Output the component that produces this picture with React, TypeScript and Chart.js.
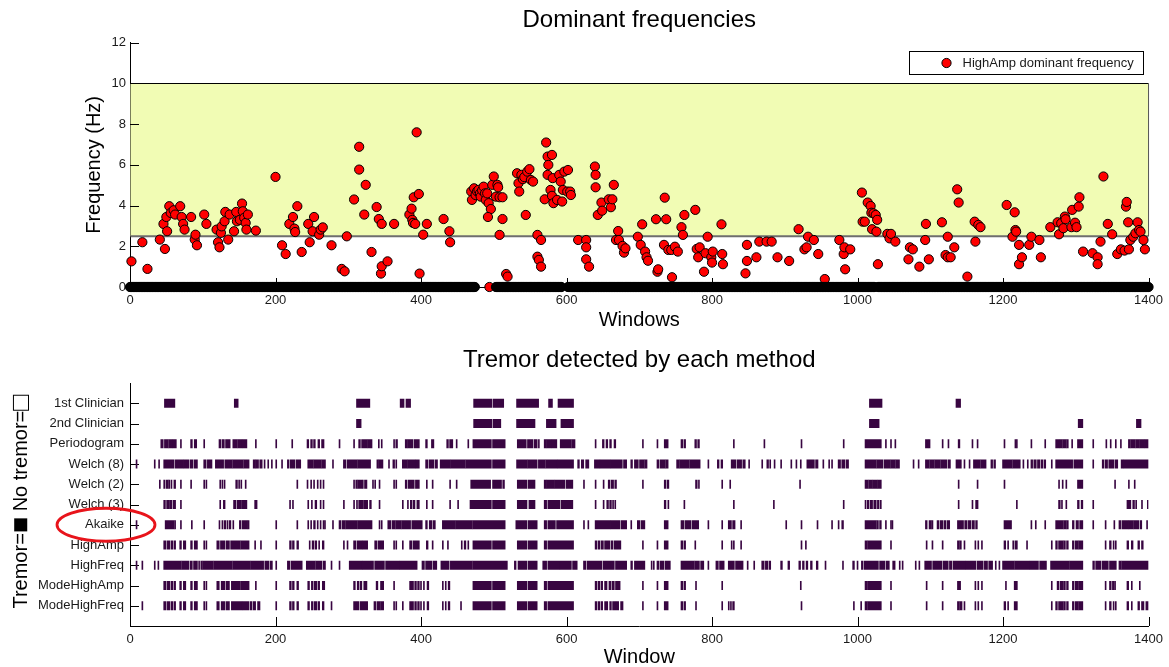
import React, { useEffect, useRef } from 'react';
import { Chart, registerables } from 'chart.js';

Chart.register(...registerables);

const FONT = '"Liberation Sans", Arial, Helvetica, sans-serif';
const TEXT = '#1a1a1a';

const WINDOW_TICKS = [0, 200, 400, 600, 800, 1000, 1200, 1400];
const FREQ_TICKS = [0, 2, 4, 6, 8, 10, 12];
const TREMOR_BAND: [number, number] = [2.5, 10];

// windows whose dominant frequency is 0 (no peak found)
const ZERO_RANGES: [number, number][] = [[0, 474], [494, 494], [503, 593], [602, 1023], [1028, 1400]];

// [window, frequency Hz] for windows with a non-zero dominant frequency
const DOMINANT_FREQ: [number, number][] = [
  [2, 1.26], [17, 2.2], [24, 0.89], [41, 2.33], [46, 3.1], [48, 1.87], [50, 3.44], [51, 2.74], [54, 3.97], [56, 3.64],
  [60, 3.77], [62, 3.56], [69, 3.97], [71, 3.44], [73, 3.1], [75, 2.82], [84, 3.44], [89, 2.33], [90, 2.57], [92, 2.05],
  [102, 3.56], [105, 3.1], [119, 2.82], [121, 2.2], [123, 1.95], [125, 2.66], [126, 2.98], [130, 3.23], [131, 3.69], [135, 2.33],
  [137, 3.56], [143, 2.74], [146, 3.69], [147, 3.23], [151, 3.3], [154, 4.1], [155, 3.72], [157, 3.4], [159, 3.15], [160, 2.82],
  [162, 3.56], [173, 2.77], [200, 5.41], [209, 2.05], [214, 1.62], [219, 3.1], [224, 3.44], [226, 2.87], [227, 2.7], [230, 3.97],
  [236, 1.72], [245, 3.1], [247, 2.2], [251, 2.74], [253, 3.44], [260, 2.57], [262, 2.82], [265, 2.93], [277, 2.05], [291, 0.89],
  [295, 0.77], [298, 2.49], [308, 4.3], [315, 6.89], [315, 5.77], [322, 3.56], [324, 5.02], [332, 1.72], [339, 3.93], [342, 3.34],
  [345, 0.66], [346, 3.1], [346, 1.02], [354, 1.26], [363, 3.1], [384, 3.56], [387, 3.85], [388, 3.3], [389, 3.15], [390, 4.41],
  [392, 3.1], [394, 7.6], [397, 4.57], [398, 0.66], [403, 2.57], [408, 3.1], [431, 3.34], [439, 2.74], [440, 2.2],
  [469, 4.69], [470, 4.28], [473, 4.85], [475, 4.52], [477, 4.7], [479, 4.77], [481, 4.6], [482, 4.44], [484, 4.75], [486, 4.93],
  [488, 4.6], [489, 4.28], [491, 4.6], [493, 4.12], [496, 3.83], [492, 3.44], [498, 5.02], [500, 5.43], [503, 4.44], [505, 5.02],
  [506, 4.9], [508, 4.41], [508, 2.56], [512, 4.41], [512, 3.34], [517, 0.64], [519, 0.51],
  [532, 5.59], [534, 5.1], [535, 4.69], [538, 5.51], [540, 5.3], [542, 5.4], [544, 3.54], [546, 5.67], [549, 5.79], [551, 5.26],
  [554, 5.18], [560, 2.56], [560, 1.49], [562, 1.33], [565, 2.31], [565, 1.0], [570, 4.31], [572, 7.1], [574, 6.41], [574, 5.51],
  [575, 6.0], [578, 4.77], [580, 6.49], [580, 4.48], [581, 5.35], [582, 4.12], [587, 4.28], [590, 5.51], [592, 5.18], [594, 4.2],
  [595, 4.77], [597, 5.67], [601, 4.69], [602, 5.75], [605, 4.69], [606, 4.52],
  [616, 2.31], [627, 2.31], [627, 1.95], [627, 1.36], [631, 1.0], [639, 5.92], [640, 5.51], [640, 4.9], [643, 3.54], [648, 4.15],
  [649, 3.75], [658, 4.31], [661, 3.92], [663, 4.31], [665, 5.02], [668, 2.31], [671, 2.75], [672, 2.31], [677, 2.02], [679, 1.69],
  [681, 1.9], [698, 2.47],
  [704, 3.08], [702, 2.07], [708, 1.74], [710, 1.46], [712, 1.29], [725, 0.75], [726, 0.87], [723, 3.33], [734, 2.07], [735, 4.39],
  [737, 3.33], [740, 1.82], [744, 1.82], [745, 0.48], [749, 1.98], [753, 1.74], [758, 2.94], [760, 2.56], [762, 3.54], [777, 3.79],
  [779, 1.87], [781, 1.46], [783, 1.95], [789, 0.75], [791, 1.66], [794, 2.47], [799, 1.46], [800, 1.2], [801, 1.74], [813, 3.08],
  [814, 1.62], [815, 1.12], [846, 0.67], [848, 2.07], [848, 1.28], [861, 1.46], [865, 2.23], [875, 2.23], [882, 2.23], [890, 1.46],
  [906, 1.28], [919, 2.84], [927, 1.85], [930, 1.95], [932, 2.47], [940, 2.31], [946, 1.62], [955, 0.39], [975, 2.31], [981, 1.62],
  [982, 1.95], [983, 0.87], [990, 1.85], [1006, 4.64], [1007, 3.21], [1010, 3.21], [1014, 4.15], [1018, 3.98], [1019, 3.65], [1020, 2.84],
  [1022, 3.62], [1025, 3.54], [1026, 2.72], [1027, 3.3], [1028, 1.12], [1041, 2.61], [1044, 2.39],
  [1046, 2.61], [1052, 2.23], [1070, 1.36], [1072, 1.95], [1076, 1.85], [1085, 1.0], [1093, 2.31], [1094, 3.1], [1098, 1.36], [1116, 3.18],
  [1121, 1.57], [1124, 2.47], [1124, 1.46], [1128, 1.46], [1133, 1.95], [1137, 4.8], [1139, 4.15], [1151, 0.51], [1161, 3.21], [1162, 2.23],
  [1166, 3.05], [1169, 2.94], [1205, 4.03], [1213, 2.47], [1216, 3.67], [1217, 2.8], [1218, 2.72], [1222, 2.07], [1222, 1.12], [1226, 1.46],
  [1236, 2.07], [1239, 2.47], [1250, 2.31], [1252, 1.46], [1265, 2.94], [1275, 3.18], [1277, 2.59], [1280, 3.13], [1283, 2.89], [1285, 3.46],
  [1286, 3.33], [1294, 2.94], [1295, 3.79], [1299, 3.16], [1301, 2.94], [1304, 3.95], [1305, 4.41], [1310, 1.74], [1323, 1.66], [1330, 1.46],
  [1330, 1.12], [1334, 2.23], [1338, 5.43], [1344, 3.1], [1350, 2.59], [1357, 1.62], [1362, 1.85], [1367, 1.79], [1369, 3.95], [1370, 4.18],
  [1372, 3.18], [1373, 1.85], [1375, 2.31], [1379, 2.47], [1382, 2.64], [1385, 3.18], [1387, 2.8], [1389, 2.72], [1393, 2.31], [1395, 1.85],
];

const METHODS = [
  '1st Clinician', '2nd Clinician', 'Periodogram', 'Welch (8)', 'Welch (2)', 'Welch (3)',
  'Akaike', 'HighAmp', 'HighFreq', 'ModeHighAmp', 'ModeHighFreq',
];

// detected-tremor window ranges [first, last] for each method
const CLINICIAN_1: [number, number][] = [[48, 61], [144, 148], [312, 329], [372, 376], [380, 385], [473, 497], [500, 513], [532, 561], [576, 580], [589, 609], [1017, 1033], [1136, 1141]];
const CLINICIAN_2: [number, number][] = [[312, 317], [473, 497], [500, 509], [532, 556], [573, 585], [593, 609], [1017, 1029], [1304, 1309], [1384, 1389]];
const PERIODOGRAM: [number, number][] = [
  [43, 45], [48, 52], [54, 58], [60, 63], [70, 70], [84, 85], [89, 91], [102, 102], [123, 124], [127, 129], [132, 137], [142, 147], [149, 153], [155, 160],
  [173, 173], [201, 201], [223, 223], [244, 245], [249, 250], [253, 254], [259, 260], [264, 266], [288, 288], [308, 308], [315, 316], [319, 325], [327, 332],
  [342, 342], [346, 346], [363, 363], [366, 367], [379, 380], [382, 388], [391, 397], [407, 408], [415, 417], [436, 437], [440, 443], [449, 449], [465, 465],
  [472, 496], [499, 515], [533, 544], [547, 553], [556, 559], [562, 562], [570, 571], [573, 579], [581, 586], [592, 606], [608, 611], [640, 640], [650, 651],
  [655, 656], [660, 661], [666, 667], [705, 705], [725, 725], [735, 739], [758, 759], [762, 763], [777, 778], [781, 782], [830, 830], [872, 872], [923, 923],
  [981, 981], [1011, 1012], [1014, 1032], [1039, 1039], [1046, 1046], [1052, 1052], [1094, 1096], [1098, 1099], [1117, 1117], [1125, 1125], [1139, 1140],
  [1158, 1158], [1165, 1165], [1202, 1202], [1217, 1217], [1219, 1219], [1239, 1239], [1258, 1258], [1273, 1276], [1278, 1281], [1283, 1286], [1288, 1289],
  [1295, 1295], [1303, 1309], [1324, 1324], [1342, 1342], [1348, 1348], [1355, 1355], [1362, 1362], [1373, 1374], [1376, 1381], [1383, 1387], [1389, 1394], [1396, 1399],
];
const WELCH_8: [number, number][] = [
  [9, 9], [34, 34], [40, 40], [47, 60], [63, 72], [74, 80], [83, 86], [89, 92], [102, 104], [107, 112], [118, 128], [131, 140], [142, 155], [157, 163],
  [170, 172], [174, 176], [179, 181], [185, 185], [190, 190], [195, 195], [201, 201], [209, 209], [217, 218], [221, 226], [229, 234], [245, 251], [253, 262],
  [264, 268], [279, 279], [294, 296], [299, 312], [314, 330], [340, 341], [343, 347], [356, 356], [362, 363], [366, 366], [375, 380], [382, 392], [394, 397],
  [407, 409], [412, 417], [420, 422], [427, 440], [442, 460], [462, 496], [499, 515], [532, 545], [547, 559], [562, 570], [572, 586], [588, 609], [616, 617],
  [621, 623], [627, 630], [639, 645], [647, 660], [662, 676], [679, 682], [689, 690], [694, 698], [701, 706], [708, 710], [725, 726], [729, 735], [737, 739],
  [752, 754], [756, 768], [770, 783], [795, 795], [808, 809], [813, 814], [827, 832], [835, 840], [843, 845], [851, 851], [869, 869], [876, 877], [880, 880],
  [886, 886], [895, 895], [909, 909], [916, 916], [922, 922], [931, 940], [943, 945], [953, 953], [961, 961], [965, 965], [974, 976], [979, 982], [985, 987],
  [1011, 1025], [1027, 1034], [1037, 1044], [1046, 1051], [1053, 1057], [1077, 1077], [1084, 1084], [1094, 1098], [1100, 1105], [1107, 1113], [1115, 1122],
  [1125, 1127], [1136, 1142], [1147, 1147], [1154, 1154], [1160, 1168], [1170, 1176], [1184, 1185], [1188, 1189], [1200, 1212], [1214, 1223], [1228, 1228],
  [1234, 1234], [1239, 1240], [1243, 1245], [1248, 1250], [1253, 1254], [1257, 1258], [1267, 1267], [1273, 1295], [1298, 1309], [1324, 1324], [1337, 1338],
  [1341, 1343], [1346, 1352], [1355, 1357], [1363, 1364], [1366, 1399],
];
const WELCH_2: [number, number][] = [
  [41, 41], [47, 47], [50, 52], [54, 54], [57, 57], [61, 62], [70, 70], [84, 84], [102, 102], [105, 105], [124, 124], [127, 127], [130, 130], [146, 147],
  [150, 150], [153, 153], [159, 159], [230, 230], [244, 244], [249, 249], [253, 253], [258, 258], [262, 262], [266, 266], [308, 308], [311, 312], [314, 318],
  [320, 320], [323, 325], [334, 334], [337, 337], [343, 343], [363, 363], [366, 366], [379, 380], [383, 390], [393, 397], [408, 408], [416, 416], [440, 440],
  [449, 449], [469, 495], [499, 510], [513, 514], [533, 545], [548, 556], [570, 572], [574, 582], [584, 597], [600, 608], [624, 624], [640, 640], [651, 651],
  [658, 659], [662, 664], [667, 668], [705, 705], [735, 736], [739, 740], [778, 779], [782, 782], [814, 814], [825, 825], [921, 921], [1011, 1014], [1016, 1020],
  [1022, 1026], [1028, 1032], [1139, 1139], [1165, 1165], [1202, 1202], [1277, 1277], [1282, 1282], [1287, 1287], [1303, 1309], [1354, 1354], [1373, 1373], [1381, 1381],
];
const WELCH_3: [number, number][] = [
  [47, 48], [51, 53], [55, 57], [60, 62], [70, 70], [124, 124], [129, 130], [143, 145], [148, 152], [154, 157], [159, 160], [172, 174], [220, 220], [224, 224],
  [245, 245], [250, 250], [255, 256], [262, 262], [266, 266], [294, 294], [308, 308], [312, 312], [315, 320], [322, 326], [330, 331], [343, 343], [375, 375],
  [382, 382], [386, 387], [390, 391], [395, 397], [408, 408], [416, 416], [440, 440], [451, 451], [468, 496], [499, 515], [533, 545], [549, 556], [570, 572],
  [575, 590], [593, 608], [640, 640], [651, 651], [656, 657], [660, 661], [664, 664], [667, 667], [735, 736], [740, 740], [762, 762], [830, 830], [885, 885],
  [981, 981], [1011, 1011], [1014, 1015], [1018, 1020], [1023, 1025], [1028, 1029], [1032, 1032], [1139, 1139], [1158, 1158], [1163, 1165], [1219, 1219],
  [1277, 1278], [1281, 1281], [1287, 1287], [1303, 1304], [1308, 1309], [1324, 1324], [1371, 1375], [1379, 1380], [1383, 1383], [1391, 1391], [1399, 1399],
];
const AKAIKE: [number, number][] = [
  [9, 9], [49, 60], [62, 62], [70, 70], [85, 85], [102, 102], [123, 123], [127, 127], [130, 131], [134, 134], [137, 138], [142, 142], [151, 152], [155, 160],
  [162, 163], [201, 201], [230, 230], [245, 245], [249, 249], [253, 254], [258, 258], [262, 262], [266, 266], [268, 268], [279, 279], [288, 289], [292, 295],
  [297, 312], [314, 332], [343, 343], [346, 346], [355, 358], [361, 364], [366, 372], [374, 385], [388, 401], [407, 408], [412, 414], [417, 419], [430, 446],
  [448, 470], [472, 515], [531, 545], [548, 559], [570, 572], [575, 584], [587, 609], [624, 624], [630, 630], [640, 660], [662, 673], [676, 682], [689, 689],
  [698, 700], [703, 707], [735, 739], [758, 761], [764, 770], [773, 781], [795, 795], [814, 814], [823, 826], [829, 831], [840, 840], [902, 902], [923, 923],
  [945, 945], [965, 965], [974, 974], [979, 980], [1011, 1025], [1027, 1028], [1031, 1032], [1039, 1039], [1046, 1046], [1048, 1048], [1094, 1095], [1099, 1101],
  [1103, 1103], [1110, 1111], [1114, 1117], [1120, 1121], [1124, 1126], [1138, 1145], [1148, 1150], [1153, 1155], [1158, 1160], [1163, 1164], [1202, 1211],
  [1239, 1239], [1245, 1245], [1258, 1258], [1273, 1282], [1284, 1286], [1288, 1289], [1296, 1297], [1301, 1303], [1306, 1309], [1324, 1324], [1341, 1341],
  [1353, 1353], [1360, 1361], [1364, 1372], [1374, 1378], [1380, 1386], [1389, 1390], [1398, 1398],
];
const HIGH_AMP: [number, number][] = [
  [47, 49], [52, 54], [57, 58], [61, 62], [69, 70], [74, 76], [84, 85], [89, 92], [102, 102], [105, 105], [120, 122], [125, 130], [133, 136], [139, 151],
  [153, 163], [172, 172], [180, 180], [201, 201], [220, 221], [224, 225], [230, 231], [247, 247], [251, 252], [255, 256], [260, 260], [265, 266], [294, 294],
  [299, 299], [308, 310], [313, 318], [320, 326], [337, 339], [342, 344], [346, 348], [363, 363], [366, 366], [375, 375], [385, 387], [390, 397], [408, 409],
  [416, 416], [430, 430], [437, 437], [456, 456], [460, 461], [465, 465], [472, 496], [499, 515], [533, 545], [548, 559], [570, 572], [575, 609], [640, 641],
  [644, 645], [648, 650], [653, 659], [662, 663], [666, 674], [705, 705], [725, 725], [735, 739], [758, 759], [762, 763], [777, 777], [814, 814], [827, 827],
  [830, 830], [840, 840], [923, 923], [929, 929], [1011, 1013], [1015, 1032], [1046, 1046], [1095, 1095], [1103, 1103], [1117, 1117], [1138, 1139], [1141, 1142],
  [1147, 1147], [1162, 1162], [1166, 1166], [1171, 1171], [1202, 1203], [1207, 1207], [1214, 1214], [1217, 1219], [1233, 1233], [1267, 1267], [1273, 1274],
  [1277, 1282], [1284, 1285], [1288, 1289], [1296, 1297], [1300, 1303], [1305, 1309], [1341, 1341], [1347, 1348], [1352, 1352], [1355, 1355], [1371, 1372],
  [1377, 1378], [1386, 1387], [1391, 1392],
];
const HIGH_FREQ: [number, number][] = [
  [9, 9], [17, 17], [34, 34], [39, 39], [47, 70], [72, 80], [83, 85], [88, 92], [95, 95], [98, 99], [101, 114], [116, 140], [142, 165], [167, 183], [186, 190],
  [193, 195], [201, 201], [217, 219], [222, 236], [243, 254], [256, 263], [266, 268], [277, 277], [288, 288], [302, 318], [320, 334], [337, 349], [352, 370],
  [372, 394], [402, 404], [407, 414], [417, 421], [428, 438], [441, 470], [472, 518], [529, 530], [534, 545], [548, 559], [568, 572], [575, 590], [592, 606],
  [609, 614], [624, 626], [629, 648], [651, 665], [668, 682], [689, 690], [694, 707], [717, 717], [720, 720], [725, 726], [729, 733], [736, 742], [758, 775],
  [777, 782], [785, 788], [795, 795], [806, 808], [811, 816], [823, 830], [833, 842], [849, 849], [858, 858], [869, 871], [874, 876], [879, 880], [895, 896],
  [905, 906], [920, 921], [925, 926], [930, 931], [936, 937], [944, 945], [956, 956], [980, 980], [994, 995], [1000, 1000], [1006, 1007], [1010, 1028],
  [1031, 1037], [1040, 1043], [1049, 1051], [1058, 1058], [1062, 1062], [1080, 1080], [1085, 1085], [1093, 1101], [1104, 1115], [1118, 1124], [1127, 1129],
  [1132, 1148], [1150, 1162], [1165, 1172], [1175, 1178], [1181, 1185], [1190, 1190], [1195, 1195], [1200, 1215], [1217, 1236], [1238, 1248], [1251, 1259],
  [1266, 1290], [1292, 1309], [1324, 1325], [1328, 1334], [1337, 1344], [1347, 1355], [1360, 1362], [1364, 1399],
];
const MODE_HIGH_AMP: [number, number][] = [
  [47, 49], [52, 54], [57, 58], [61, 62], [69, 70], [74, 76], [84, 85], [89, 92], [102, 102], [105, 105], [120, 122], [126, 130], [133, 136], [140, 151],
  [153, 163], [173, 173], [201, 201], [220, 221], [224, 225], [230, 231], [245, 246], [250, 251], [254, 256], [259, 260], [265, 267], [308, 309], [313, 314],
  [317, 318], [322, 325], [339, 340], [345, 348], [363, 363], [385, 389], [392, 393], [396, 397], [400, 400], [404, 404], [409, 410], [430, 430], [434, 434],
  [438, 439], [472, 496], [499, 515], [533, 545], [548, 559], [570, 572], [575, 609], [640, 641], [644, 645], [648, 649], [653, 655], [659, 660], [663, 665],
  [668, 673], [705, 705], [725, 725], [735, 739], [758, 759], [762, 763], [778, 778], [814, 814], [922, 922], [1011, 1013], [1015, 1032], [1046, 1046],
  [1095, 1095], [1117, 1117], [1138, 1141], [1162, 1162], [1166, 1166], [1171, 1171], [1204, 1204], [1216, 1219], [1267, 1267], [1275, 1276], [1279, 1282],
  [1284, 1285], [1288, 1289], [1296, 1297], [1300, 1303], [1305, 1309], [1341, 1341], [1347, 1348], [1351, 1352], [1354, 1354], [1371, 1372], [1377, 1377], [1388, 1388],
];
const MODE_HIGH_FREQ: [number, number][] = [
  [17, 17], [47, 49], [52, 54], [57, 58], [61, 62], [69, 70], [74, 76], [84, 85], [89, 92], [102, 102], [105, 105], [120, 122], [126, 130], [133, 136],
  [140, 153], [155, 163], [166, 167], [170, 172], [176, 178], [201, 201], [220, 221], [224, 225], [230, 231], [245, 246], [250, 251], [254, 256], [259, 260],
  [265, 266], [277, 277], [308, 311], [313, 314], [317, 326], [336, 337], [340, 343], [345, 348], [363, 363], [366, 366], [375, 375], [385, 389], [392, 393],
  [396, 397], [400, 400], [404, 404], [409, 410], [430, 430], [434, 434], [438, 439], [455, 455], [472, 496], [499, 515], [533, 545], [548, 559], [570, 572],
  [575, 609], [640, 641], [644, 645], [648, 649], [653, 656], [660, 661], [664, 667], [669, 671], [675, 677], [705, 705], [725, 725], [735, 739], [758, 759],
  [762, 763], [778, 778], [814, 814], [823, 823], [826, 826], [829, 830], [923, 923], [995, 995], [1005, 1005], [1011, 1013], [1015, 1032], [1046, 1046],
  [1095, 1095], [1117, 1117], [1138, 1139], [1141, 1143], [1147, 1147], [1162, 1162], [1166, 1166], [1171, 1171], [1202, 1203], [1207, 1207], [1216, 1219],
  [1267, 1267], [1273, 1274], [1277, 1282], [1284, 1285], [1288, 1289], [1296, 1297], [1300, 1303], [1305, 1309], [1341, 1341], [1347, 1348], [1352, 1352],
  [1355, 1355], [1371, 1372], [1377, 1377], [1386, 1387], [1391, 1393], [1397, 1399],
];

const DETECTIONS = [
  CLINICIAN_1, CLINICIAN_2, PERIODOGRAM, WELCH_8, WELCH_2, WELCH_3,
  AKAIKE, HIGH_AMP, HIGH_FREQ, MODE_HIGH_AMP, MODE_HIGH_FREQ,
];

const LEGEND_LABEL = 'HighAmp dominant frequency';
const Y_TITLE_PARTS: [string, number][] = [['Tremor=', 20], ['■', 27], [' No tremor=', 20], ['□', 27]];

const drawInwardTicks = (chart: any) => {
  const { ctx, chartArea, scales } = chart;
  const x = scales.x;
  const y = scales.y;
  ctx.save();
  ctx.strokeStyle = '#000';
  ctx.lineWidth = 1;
  ctx.beginPath();
  x.ticks.forEach((t: any) => {
    const px = Math.round(x.getPixelForValue(t.value)) + 0.5;
    ctx.moveTo(px, chartArea.bottom);
    ctx.lineTo(px, chartArea.bottom - 9);
  });
  y.ticks.forEach((t: any) => {
    const py = Math.round(y.getPixelForValue(t.value)) + 0.5;
    ctx.moveTo(chartArea.left, py);
    ctx.lineTo(chartArea.left + 9, py);
  });
  ctx.stroke();
  ctx.restore();
};

const topDecor = {
  id: 'topDecor',
  beforeDatasetsDraw(chart: any) {
    const { ctx, scales } = chart;
    const x = scales.x;
    const y = scales.y;
    const l = x.getPixelForValue(WINDOW_TICKS[0]) + 0.5;
    const r = x.getPixelForValue(WINDOW_TICKS[WINDOW_TICKS.length - 1]);
    const t = y.getPixelForValue(TREMOR_BAND[1]);
    const b = y.getPixelForValue(TREMOR_BAND[0]);
    ctx.save();
    ctx.fillStyle = '#f1fcb4';
    ctx.fillRect(l, t, r - l, b - t);
    ctx.strokeStyle = '#6e6e6e';
    ctx.lineWidth = 2;
    ctx.beginPath();
    ctx.moveTo(l, b);
    ctx.lineTo(r, b);
    ctx.stroke();
    ctx.strokeStyle = '#000';
    ctx.lineWidth = 1.2;
    ctx.beginPath();
    ctx.moveTo(l, Math.round(t) + 0.5);
    ctx.lineTo(r, Math.round(t) + 0.5);
    ctx.stroke();
    ctx.strokeStyle = '#555';
    ctx.lineWidth = 1;
    ctx.beginPath();
    ctx.moveTo(r, t);
    ctx.lineTo(r, b);
    ctx.stroke();
    ctx.restore();
    drawInwardTicks(chart);
  },
  afterDraw(chart: any) {
    const { ctx, chartArea } = chart;
    const bw = 234;
    const bh = 23;
    const bx = Math.round(chartArea.right - 6 - bw) + 0.5;
    const by = Math.round(chartArea.top + 8) + 0.5;
    ctx.save();
    ctx.fillStyle = '#fff';
    ctx.fillRect(bx, by, bw, bh);
    ctx.strokeStyle = '#000';
    ctx.lineWidth = 1;
    ctx.strokeRect(bx, by, bw, bh);
    ctx.beginPath();
    ctx.arc(bx + 37, by + bh / 2, 4.6, 0, Math.PI * 2);
    ctx.fillStyle = '#ff0000';
    ctx.fill();
    ctx.stroke();
    ctx.fillStyle = TEXT;
    ctx.font = `13px ${FONT}`;
    ctx.textBaseline = 'middle';
    ctx.textAlign = 'left';
    ctx.fillText(LEGEND_LABEL, bx + 53, by + bh / 2 + 0.5);
    ctx.restore();
  },
};

const bottomDecor = {
  id: 'bottomDecor',
  beforeDatasetsDraw(chart: any) {
    drawInwardTicks(chart);
  },
  afterDraw(chart: any) {
    const { ctx, scales, chartArea } = chart;
    const cy = scales.y.getPixelForValue(METHODS.indexOf('Akaike') + 1);
    ctx.save();
    ctx.strokeStyle = '#e8141b';
    ctx.lineWidth = 2.8;
    ctx.beginPath();
    ctx.ellipse(106, cy, 49, 16.5, 0, 0, Math.PI * 2);
    ctx.stroke();
    ctx.restore();

    // rotated y-axis title with enlarged square glyphs
    ctx.save();
    ctx.translate(21, (chartArea.top + chartArea.bottom) / 2 - 3);
    ctx.rotate(-Math.PI / 2);
    ctx.fillStyle = '#000';
    ctx.textBaseline = 'middle';
    ctx.textAlign = 'left';
    let total = 0;
    const widths = Y_TITLE_PARTS.map(([txt, size]) => {
      ctx.font = `${size}px ${FONT}`;
      const w = ctx.measureText(txt).width;
      total += w;
      return w;
    });
    let pos = -total / 2;
    Y_TITLE_PARTS.forEach(([txt, size], i) => {
      ctx.font = `${size}px ${FONT}`;
      ctx.fillText(txt, pos, size > 20 ? 1 : 0);
      pos += widths[i];
    });
    ctx.restore();
  },
};

const pointStyle = {
  pointRadius: 4.6,
  pointBorderColor: '#000',
  pointBorderWidth: 1,
  clip: false as const,
};

const TopChart = () => {
  const ref = useRef<HTMLCanvasElement | null>(null);
  useEffect(() => {
    if (!ref.current) return;
    const zeroPoints: { x: number; y: number }[] = [];
    const zeroColors: string[] = [];
    ZERO_RANGES.forEach(([a, b]) => {
      for (let w = a; w <= b; w++) {
        zeroPoints.push({ x: w, y: 0 });
        // densely overlapping markers merge into a black band
        zeroColors.push(a === b ? '#ff0000' : '#000000');
      }
    });
    const freqPoints = DOMINANT_FREQ.map(([x, y]) => ({ x, y }));
    const chart = new Chart(ref.current, {
      type: 'scatter',
      data: {
        datasets: [
          { label: 'zero', data: zeroPoints, ...pointStyle, pointBackgroundColor: zeroColors },
          { label: LEGEND_LABEL, data: freqPoints, ...pointStyle, pointBackgroundColor: '#ff0000' },
        ],
      },
      options: {
        responsive: false,
        animation: false,
        events: [],
        layout: { padding: { left: 0, right: 20, top: 0, bottom: 0 } },
        plugins: {
          legend: { display: false },
          tooltip: { enabled: false },
          title: {
            display: true,
            fullSize: false,
            text: 'Dominant frequencies',
            color: '#000',
            font: { family: FONT, size: 24, weight: 'normal', lineHeight: 1.2 },
            padding: { top: 6, bottom: 8 },
          },
        },
        scales: {
          x: {
            type: 'linear',
            min: 0,
            max: 1400,
            afterBuildTicks: (s: any) => { s.ticks = WINDOW_TICKS.map((v) => ({ value: v })); },
            afterFit: (s: any) => { s.height = 48; },
            grid: { display: false, drawTicks: false },
            border: { display: true, color: '#000', width: 1 },
            ticks: { color: TEXT, font: { family: FONT, size: 13 }, padding: 6, maxRotation: 0, autoSkip: false, callback: (v: any) => String(v) },
            title: { display: true, text: 'Windows', color: '#000', font: { family: FONT, size: 20, lineHeight: 1.2 }, padding: { top: 0, bottom: 3 } },
          },
          y: {
            type: 'linear',
            min: 0,
            max: 12,
            afterBuildTicks: (s: any) => { s.ticks = FREQ_TICKS.map((v) => ({ value: v })); },
            afterFit: (s: any) => { s.width = 130; },
            grid: { display: false, drawTicks: false },
            border: { display: true, color: '#000', width: 1 },
            ticks: { color: TEXT, font: { family: FONT, size: 13 }, padding: 4, autoSkip: false, callback: (v: any) => String(v) },
            title: { display: true, text: 'Frequency (Hz)', color: '#000', font: { family: FONT, size: 20, lineHeight: 1.2 }, padding: { top: 82, bottom: 0 } },
          },
        },
      } as any,
      plugins: [topDecor],
    });
    return () => chart.destroy();
  }, []);
  return <canvas ref={ref} width={1169} height={335} style={{ display: 'block' }} />;
};

const BottomChart = () => {
  const ref = useRef<HTMLCanvasElement | null>(null);
  useEffect(() => {
    if (!ref.current) return;
    const chart = new Chart(ref.current, {
      type: 'bar',
      data: {
        datasets: DETECTIONS.map((rows, i) => ({
          label: METHODS[i],
          data: rows.map(([s, e]) => ({ x: [s - 0.5, e + 0.5], y: i + 1 })),
          backgroundColor: '#380541',
          borderWidth: 0,
          barThickness: 8,
          grouped: false,
          inflateAmount: 0.45,
        })) as any,
      },
      options: {
        indexAxis: 'y',
        responsive: false,
        animation: false,
        events: [],
        layout: { padding: { left: 0, right: 20, top: 0, bottom: 0 } },
        plugins: {
          legend: { display: false },
          tooltip: { enabled: false },
          title: {
            display: true,
            fullSize: false,
            text: 'Tremor detected by each method',
            color: '#000',
            font: { family: FONT, size: 24, weight: 'normal', lineHeight: 1.2 },
            padding: { top: 10.6, bottom: 8.6 },
          },
        },
        scales: {
          x: {
            type: 'linear',
            min: 0,
            max: 1400,
            offset: false,
            afterBuildTicks: (s: any) => { s.ticks = WINDOW_TICKS.map((v) => ({ value: v })); },
            afterFit: (s: any) => { s.height = 41; },
            grid: { display: false, drawTicks: false },
            border: { display: true, color: '#000', width: 1 },
            ticks: { color: TEXT, font: { family: FONT, size: 13 }, padding: 6, maxRotation: 0, autoSkip: false, callback: (v: any) => String(v) },
            title: { display: true, text: 'Window', color: '#000', font: { family: FONT, size: 20, lineHeight: 1 }, padding: { top: 0, bottom: 0 } },
          },
          y: {
            type: 'linear',
            min: 0,
            max: 12,
            reverse: true,
            offset: false,
            afterBuildTicks: (s: any) => { s.ticks = METHODS.map((_, i) => ({ value: i + 1 })); },
            afterFit: (s: any) => { s.width = 130; },
            grid: { display: false, drawTicks: false },
            border: { display: true, color: '#000', width: 1 },
            ticks: { color: TEXT, font: { family: FONT, size: 13 }, padding: 6, autoSkip: false, callback: (v: any) => METHODS[Number(v) - 1] ?? '' },
            title: { display: false },
          },
        },
      } as any,
      plugins: [bottomDecor],
    });
    return () => chart.destroy();
  }, []);
  return <canvas ref={ref} width={1169} height={332} style={{ display: 'block' }} />;
};

export default function App() {
  return (
    <div style={{ position: 'absolute', left: 0, top: 0, width: 1169, height: 667, background: '#fff', overflow: 'hidden' }}>
      <TopChart />
      <BottomChart />
    </div>
  );
}
